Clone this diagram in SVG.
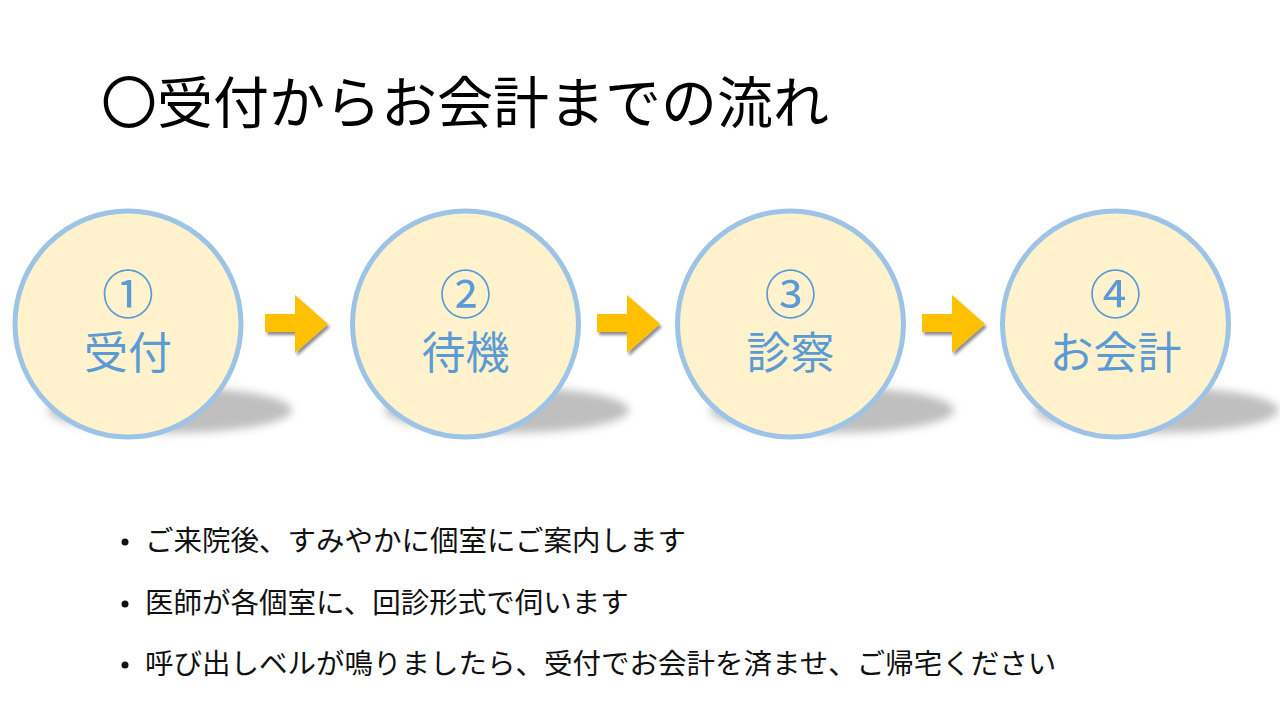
<svg xmlns="http://www.w3.org/2000/svg" width="1280" height="720" viewBox="0 0 1280 720">
<style>
.jp{font-family:"Noto Sans CJK JP","Noto Sans",sans-serif}
.title{font-size:56px;fill:#000}
.circ{fill:#FFF2CC;stroke:#9DC3E6;stroke-width:5}
.lbl{font-size:44px;fill:#5B9BD5;text-anchor:middle}
.num{font-size:52px}
.bul{font-size:28.5px;fill:#111}
.arrow{fill:#FFC000}
</style>
<defs>
<filter id="sh" x="-30%" y="-100%" width="160%" height="300%"><feGaussianBlur stdDeviation="4"/></filter>
<filter id="ash" x="-30%" y="-30%" width="160%" height="160%">
<feGaussianBlur in="SourceAlpha" stdDeviation="1.5"/>
<feOffset dx="2" dy="3" result="b"/>
<feComponentTransfer><feFuncA type="linear" slope="0.45"/></feComponentTransfer>
<feMerge><feMergeNode/><feMergeNode in="SourceGraphic"/></feMerge>
</filter>
<path id="arr" d="M0,18 H30 V-1 L63,28 L30,57 V36 H0 Z"/>
</defs>
<rect width="1280" height="720" fill="#fff"/>
<text class="jp title" x="101" y="123">〇受付からお会計までの流れ</text>

<g id="node1">
<ellipse cx="170" cy="410" rx="122" ry="23" fill="#bfbfbf" filter="url(#sh)"/>
<circle class="circ" cx="128" cy="324" r="113"/>
<text class="jp lbl num" x="128" y="314">①</text>
<text class="jp lbl" x="128" y="369">受付</text>
</g>
<g id="node2">
<ellipse cx="507" cy="410" rx="122" ry="23" fill="#bfbfbf" filter="url(#sh)"/>
<circle class="circ" cx="465.5" cy="324" r="113"/>
<text class="jp lbl num" x="465.5" y="314">②</text>
<text class="jp lbl" x="465.5" y="369">待機</text>
</g>
<g id="node3">
<ellipse cx="832" cy="410" rx="122" ry="23" fill="#bfbfbf" filter="url(#sh)"/>
<circle class="circ" cx="790.5" cy="324" r="113"/>
<text class="jp lbl num" x="790.5" y="314">③</text>
<text class="jp lbl" x="790.5" y="369">診察</text>
</g>
<g id="node4">
<ellipse cx="1157" cy="410" rx="122" ry="23" fill="#bfbfbf" filter="url(#sh)"/>
<circle class="circ" cx="1115.5" cy="324" r="113"/>
<text class="jp lbl num" x="1115.5" y="314">④</text>
<text class="jp lbl" x="1115.5" y="369">お会計</text>
</g>

<g id="connectors" filter="url(#ash)">
<use href="#arr" class="arrow" x="265" y="296"/>
<use href="#arr" class="arrow" x="597" y="296"/>
<use href="#arr" class="arrow" x="922" y="296"/>
</g>

<g id="bullets">
<circle cx="125" cy="542" r="3.5" fill="#111"/>
<text class="jp bul" x="145" y="551">ご来院後、すみやかに個室にご案内します</text>
<circle cx="125" cy="604" r="3.5" fill="#111"/>
<text class="jp bul" x="145" y="613">医師が各個室に、回診形式で伺います</text>
<circle cx="125" cy="665" r="3.5" fill="#111"/>
<text class="jp bul" x="145" y="674">呼び出しベルが鳴りましたら、受付でお会計を済ませ、ご帰宅ください</text>
</g>
</svg>
